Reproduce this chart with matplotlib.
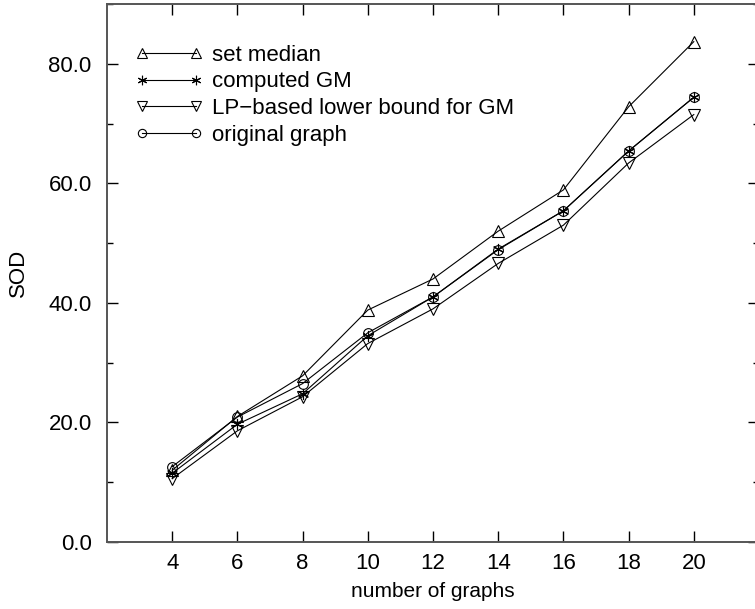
import matplotlib.pyplot as plt
from matplotlib.ticker import MultipleLocator

plt.rcParams['font.family'] = ['Liberation Sans', 'DejaVu Sans']

graphs = [4, 6, 8, 10, 12, 14, 16, 18, 20]
set_median = [12.0, 21.0, 27.8, 38.8, 44.0, 52.0, 58.9, 72.8, 83.7]
computed_gm = [11.5, 19.7, 24.8, 34.5, 41.0, 49.0, 55.4, 65.4, 74.4]
lp_bound = [10.6, 18.6, 24.3, 33.2, 39.0, 46.6, 53.0, 63.4, 71.5]
original = [12.6, 20.9, 26.5, 35.0, 41.0, 48.9, 55.4, 65.4, 74.4]

fig = plt.figure(figsize=(7.55, 6.09), dpi=100)
ax = fig.add_axes([107 / 755, 67 / 609, 652 / 755, 538 / 609])

style = dict(color='black', linewidth=0.8, markerfacecolor='none',
             markeredgecolor='black', markeredgewidth=0.8)
ax.plot(graphs, set_median, marker='^', markersize=8, label='set median', **style)
ax.plot(graphs, computed_gm, marker=(6, 2, 0), markersize=8, label='computed GM', **style)
ax.plot(graphs, lp_bound, marker='v', markersize=8, label='LP\u2212based lower bound for GM', **style)
ax.plot(graphs, original, marker='o', markersize=7, label='original graph', **style)

ax.set_xlim(2, 22)
ax.set_ylim(0, 90)
ax.set_xticks(graphs)
ax.yaxis.set_major_locator(MultipleLocator(20))
ax.yaxis.set_minor_locator(MultipleLocator(10))
ax.set_yticklabels([f'{v:.1f}' for v in ax.get_yticks()])
ax.tick_params(axis='both', which='major', direction='in', length=8, width=1,
               labelsize=16, top=True, right=True)
ax.tick_params(axis='x', which='major', pad=8)
ax.tick_params(axis='y', which='major', pad=11)
ax.tick_params(axis='y', which='minor', direction='in', length=4, width=1, right=True)
for s in ax.spines.values():
    s.set_color('#555555')
    s.set_linewidth(1.4)

ax.set_xlabel('number of graphs', fontsize=15, labelpad=6)
ax.set_ylabel('SOD', fontsize=16, labelpad=14)

ax.legend(loc='upper left', frameon=False, numpoints=2, fontsize=16,
          handlelength=3.0, handletextpad=0.42, labelspacing=0.25,
          markerscale=0.85, borderpad=0, borderaxespad=0,
          bbox_to_anchor=(0.044, 0.924))

fig.savefig('out.png', dpi=100)
